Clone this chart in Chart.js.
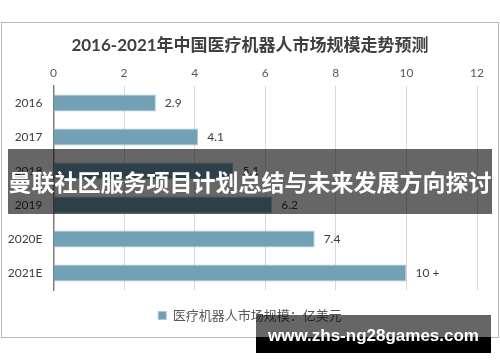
<!DOCTYPE html>
<html>
<head>
<meta charset="utf-8">
<script src="https://cdn.jsdelivr.net/npm/chart.js@4/dist/chart.umd.min.js"></script>
<style>
  html, body { margin: 0; padding: 0; background: #fff; }
  #wrap { position: relative; width: 500px; height: 362px; overflow: hidden; }
  #frame { position: absolute; left: 1px; top: 22px; width: 496px; height: 314px; border: 1px solid #b8b8b8; }
  canvas { position: absolute; left: 0; top: 0; }
  #banner { position: absolute; left: 8px; top: 149px; width: 484px; height: 65px; background: rgba(0,0,0,0.6);
    color: #fff; font: bold 23px "Noto Sans CJK SC", sans-serif; line-height: 65px; text-align: center; white-space: nowrap; }
  #wm1 { position: absolute; left: 256px; top: 315px; width: 235px; height: 22px; background: rgba(0,0,0,0.6); }
  #wm2 { position: absolute; left: 256px; top: 337px; width: 235px; height: 16px; background: #000; }
  #wmt { position: absolute; left: 256px; top: 315px; width: 235px; height: 38px; color: #fff; text-align: center;
    font: bold 17px "Liberation Sans", Arial, sans-serif; line-height: 42px; white-space: nowrap; }
</style>
</head>
<body>
<div id="wrap">
  <div id="frame"></div>
  <canvas id="c" width="500" height="362"></canvas>
  <div id="banner">曼联社区服务项目计划总结与未来发展方向探讨</div>
  <div id="wm1"></div>
  <div id="wm2"></div>
  <div id="wmt">www.zhs-ng28games.com</div>
</div>
<script>
const categories = ["2016", "2017", "2018", "2019", "2020E", "2021E"];
const marketSize = [2.9, 4.1, 5.1, 6.2, 7.4, 10];
const valueLabels = ["2.9", "4.1", "5.1", "6.2", "7.4", "10 +"];
const xTicks = [0, 2, 4, 6, 8, 10, 12];
const seriesName = "医疗机器人市场规模：亿美元";
const chartTitle = "2016-2021年中国医疗机器人市场规模走势预测";

const FONT = "Lato, 'Noto Sans CJK SC', sans-serif";

const valueLabelPlugin = {
  id: 'valueLabels',
  afterDatasetsDraw(chart) {
    const ctx = chart.ctx;
    const meta = chart.getDatasetMeta(0);
    ctx.save();
    ctx.font = "12px " + FONT;
    ctx.fillStyle = "#404040";
    ctx.textAlign = "left";
    ctx.textBaseline = "middle";
    meta.data.forEach((bar, i) => {
      ctx.fillText(valueLabels[i], bar.x + 9, bar.y);
    });
    ctx.restore();
  }
};

new Chart(document.getElementById('c'), {
  type: 'bar',
  data: {
    labels: categories,
    datasets: [{
      label: seriesName,
      data: marketSize,
      backgroundColor: '#72a0b5',
      borderColor: '#a9c8d6',
      borderWidth: 1,
      borderSkipped: 'start',
      barPercentage: 0.5,
      categoryPercentage: 1.0
    }]
  },
  options: {
    indexAxis: 'y',
    responsive: false,
    animation: false,
    devicePixelRatio: 1,
    layout: { padding: { left: 0, right: 0, top: 0, bottom: 30 } },
    plugins: {
      title: {
        display: true,
        text: chartTitle,
        color: '#404040',
        font: { family: FONT, size: 17, weight: 'bold', lineHeight: 1.2 },
        padding: { top: 35.3, bottom: 5.5 }
      },
      legend: {
        display: true,
        position: 'bottom',
        labels: {
          boxWidth: 8, boxHeight: 8, padding: 19,
          color: '#595959',
          font: { family: FONT, size: 13 }
        }
      },
      tooltip: { enabled: false }
    },
    scales: {
      x: {
        position: 'top',
        min: 0, max: 12,
        afterBuildTicks(scale) { scale.ticks = xTicks.map(v => ({ value: v })); },
        afterFit(scale) { scale.height = 24.7; },
        ticks: { color: '#595959', padding: 6, font: { family: FONT, size: 12 } },
        grid: { color: '#d9d9d9', drawTicks: false },
        border: { display: false }
      },
      y: {
        afterFit(scale) { scale.width = 53.5; },
        ticks: { color: '#404040', padding: 11, font: { family: FONT, size: 12 } },
        grid: { display: false, drawTicks: false },
        border: { display: true, color: '#7f7f7f', width: 1.5 }
      },
      ySpacer: {
        type: 'category',
        position: 'right',
        afterFit(scale) { scale.width = 23; },
        ticks: { display: false },
        grid: { display: false, drawTicks: false },
        border: { display: false }
      }
    }
  },
  plugins: [valueLabelPlugin]
});
</script>
</body>
</html>
